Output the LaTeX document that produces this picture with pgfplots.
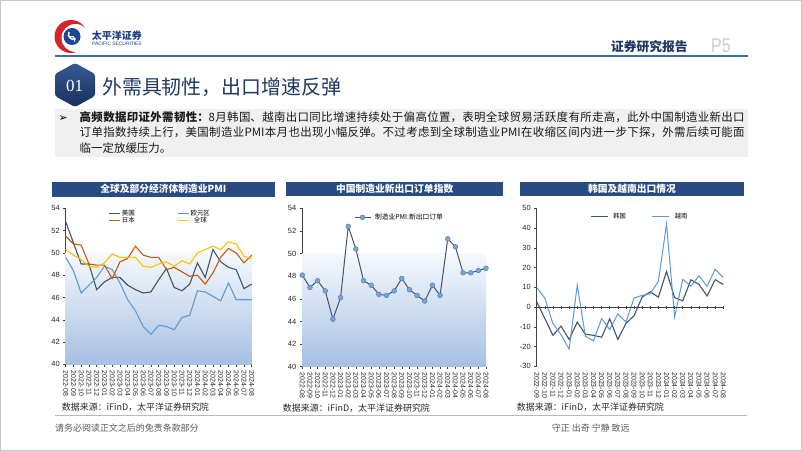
\documentclass[border=0pt]{standalone}
\usepackage{pgfplots}
\pgfplotsset{compat=1.18}
\usepackage{pgfplotstable}
\usepackage{fontspec}
\setmainfont{Liberation Sans}
\newfontfamily\cjk{Noto Sans CJK SC}
\newfontfamily\symf{DejaVu Sans}
\newfontfamily\serf{Liberation Serif}
\XeTeXlinebreaklocale "zh"
\XeTeXlinebreakskip=0pt plus 1pt

\definecolor{navy}{RGB}{31,56,100}
\definecolor{barblue}{RGB}{40,75,130}
\definecolor{hdrline}{RGB}{58,110,175}
\definecolor{usc}{RGB}{68,84,106}
\definecolor{euc}{RGB}{91,155,213}
\definecolor{jpc}{RGB}{197,90,17}
\definecolor{glc}{RGB}{255,192,0}
\definecolor{shadebot}{RGB}{166,192,227}
\definecolor{shadetop}{RGB}{246,249,253}
\definecolor{mkfill}{RGB}{124,164,212}
\definecolor{mkdraw}{RGB}{84,130,190}
\definecolor{axc}{RGB}{64,64,64}
\definecolor{boxgray}{RGB}{240,240,240}
\definecolor{logoblue}{RGB}{30,70,150}
\definecolor{logotext}{RGB}{30,60,130}
\definecolor{logored}{RGB}{215,35,40}
\definecolor{badgetop}{RGB}{55,90,148}
\definecolor{badgebot}{RGB}{24,48,92}

% global & selected economies manufacturing PMI, 2022-08 .. 2024-08
\pgfplotstableread{
i us eu jp gl
0 52.8 49.6 51.5 50.3
1 50.9 48.4 50.8 49.8
2 49.0 46.4 50.7 49.4
3 49.0 47.1 49.0 48.8
4 46.7 47.8 48.9 48.7
5 47.4 48.8 48.9 49.1
6 47.8 48.5 47.7 49.9
7 47.8 47.3 49.2 49.6
8 47.1 45.8 49.5 49.6
9 46.7 44.8 50.6 49.6
10 46.4 43.4 49.8 48.8
11 46.5 42.7 49.6 48.7
12 47.6 43.5 49.6 49.0
13 48.6 43.4 48.5 49.2
14 46.9 43.1 48.7 48.8
15 46.6 44.2 48.3 49.3
16 47.2 44.4 47.9 49.0
17 49.1 46.6 48.0 50.0
18 47.8 46.5 47.2 50.3
19 50.3 46.1 48.2 50.6
20 49.2 45.7 49.6 50.3
21 48.7 47.3 50.4 51.0
22 48.5 45.8 50.0 50.8
23 46.8 45.8 49.1 49.7
24 47.2 45.8 49.8 49.5
}\pmitable

% China new export orders, 2022-08 .. 2024-08
\pgfplotstableread{
i v
0 48.1
1 47.0
2 47.6
3 46.7
4 44.2
5 46.1
6 52.4
7 50.4
8 47.6
9 47.2
10 46.4
11 46.3
12 46.7
13 47.8
14 46.8
15 46.3
16 45.8
17 47.2
18 46.3
19 51.3
20 50.6
21 48.3
22 48.3
23 48.5
24 48.7
}\cntable

% Korea / Vietnam exports yoy, 2022-09 .. 2024-08
\pgfplotstableread{
i kr vn
0 2.7 10.0
1 -5.8 4.5
2 -14.3 -8.4
3 -9.7 -14.0
4 -16.4 -21.3
5 -7.6 11.1
6 -13.8 -14.8
7 -14.3 -17.1
8 -15.3 -5.9
9 -6.0 -11.4
10 -16.4 -3.5
11 -8.3 -7.6
12 -4.4 4.6
13 5.1 5.9
14 7.7 6.7
15 5.0 13.1
16 18.0 42.0
17 4.8 -5.0
18 3.1 14.0
19 13.8 10.6
20 11.5 15.8
21 5.6 10.5
22 13.9 19.1
23 11.4 15.0
}\exptable

\pgfplotsset{
  slide/.style={
    scale only axis, clip=false,
    axis x line*=bottom, axis y line*=left,
    axis line style={axc, line width=0.6bp},
    tick style={axc, line width=0.5bp},
    tick align=outside, major tick length=2.5bp,
    /pgf/number format/assume math mode=true,
    yticklabel style={font=\fontsize{7.5}{8}\selectfont, text=black!85},
    xticklabel style={font=\fontsize{7}{8}\selectfont, rotate=-90, anchor=west, text=black!85},
  }
}

\begin{document}
\begin{tikzpicture}[x=1bp, y=1bp]
\useasboundingbox (0,0) rectangle (802,451);
\fill[white] (0,0) rectangle (802,451);
\draw[gray!45, line width=1bp] (0.5,0.5) rectangle (801.5,450.5);
\coordinate (A1) at (65.7,86.6);
\coordinate (A2) at (302.3,84.3);
\coordinate (A3) at (536.7,84.7);

% logo
\fill[logored] (71,414.5) circle (16.5);
\fill[white] (75.5,413) circle (14);
\fill[logoblue] (72,414.5) circle (8.5);
\draw[white, line width=1.5bp] (69,419) arc (150:300:4.8);
\draw[white, line width=1.1bp] (74.5,409.5) arc (-30:120:3.5);
\node[anchor=west, inner sep=0, text=logotext, font=\fontsize{10}{11}\selectfont\cjk\bfseries] at (91.7,415.5) {太平洋证券};
\node[anchor=west, inner sep=0, text=logotext, font=\fontsize{4.9}{5}\selectfont] at (92,406.8) {PACIFIC SECURITIES};

% header
\node[anchor=west, inner sep=0, text=navy, font=\fontsize{12.8}{13}\selectfont\cjk\bfseries] at (611,404.5) {证券研究报告};
\node[anchor=west, inner sep=0, text=gray!40, font=\fontsize{20}{20}\selectfont, xscale=0.8] at (711,405.5) {P5};
\draw[hdrline, line width=1.3bp] (55,395) -- (748,395);

% section badge and title
\shade[top color=badgetop, bottom color=badgebot, rounded corners=2.5bp]
  (75,388) -- (95,377) -- (95,355) -- (75,344) -- (55,355) -- (55,377) -- cycle;
\node[text=white, font=\fontsize{17}{17}\selectfont\serf] at (74.5,365) {01};
\node[anchor=west, inner sep=0, text=navy, font=\fontsize{20}{21}\selectfont\cjk] at (102,364) {外需具韧性，出口增速反弹};

% text box
\fill[boxgray] (55,294) rectangle (748,342);
\node[anchor=base west, inner sep=0, font=\fontsize{11}{12}\selectfont\symf\bfseries] at (58.5,329.5) {➢};
\node[anchor=base west, inner sep=0, text width=665bp, align=justify, text=black!90,
      font=\fontsize{11.5}{15.5}\selectfont\cjk] at (79.5,329.5)
  {{\bfseries 高频数据印证外需韧性：}8月韩国、越南出口同比增速持续处于偏高位置，表明全球贸易活跃度有所走高，此外中国制造业新出口\linebreak
   订单指数持续上行，美国制造业PMI本月也出现小幅反弹。不过考虑到全球制造业PMI在收缩区间内进一步下探，外需后续可能面\linebreak
   临一定放缓压力。};

% chart title bars
\fill[barblue] (51.7,254.3) rectangle (275,269.3);
\node[text=white, font=\fontsize{9.8}{10}\selectfont\cjk\bfseries] at (163.3,261.8) {全球及部分经济体制造业PMI};
\fill[barblue] (286,255) rectangle (503.3,269.3);
\node[text=white, font=\fontsize{9.8}{10}\selectfont\cjk\bfseries] at (394.7,262.1) {中国制造业新出口订单指数};
\fill[barblue] (520,255) rectangle (744,269.3);
\node[text=white, font=\fontsize{9.8}{10}\selectfont\cjk\bfseries] at (632,262.1) {韩国及越南出口情况};

% chart 1
\begin{axis}[slide, at={(A1)}, anchor=south west, width=186bp, height=156.1bp,
  xmin=0, xmax=24, ymin=40, ymax=54, ytick={40,42,...,54},
  xtick={0,...,24},
  xticklabels={2022-08,2022-09,2022-10,2022-11,2022-12,2023-01,2023-02,2023-03,2023-04,2023-05,2023-06,2023-07,2023-08,2023-09,2023-10,2023-11,2023-12,2024-01,2024-02,2024-03,2024-04,2024-05,2024-06,2024-07,2024-08},
  legend columns=2,
  legend style={at={(0.229,0.99)}, anchor=north west, draw=none, fill=none,
    font=\fontsize{6.5}{7}\selectfont\cjk, inner sep=0pt, row sep=-0.5bp,
    nodes={inner sep=0.3bp},
    /tikz/every odd column/.append style={column sep=1bp},
    /tikz/every even column/.append style={column sep=42bp}},
  legend image code/.code={\draw[#1] (0bp,0bp) -- (11bp,0bp);},
]
\addplot[draw=none, top color=shadetop, bottom color=shadebot, forget plot]
  coordinates {(0,40) (0,50) (24,50) (24,40)} -- cycle;
\addplot[usc, line width=1.1bp] table[x=i, y=us] {\pmitable};
\addlegendentry{美国}
\addplot[euc, line width=1.1bp] table[x=i, y=eu] {\pmitable};
\addlegendentry{欧元区}
\addplot[jpc, line width=1.1bp] table[x=i, y=jp] {\pmitable};
\addlegendentry{日本}
\addplot[glc, line width=1.1bp] table[x=i, y=gl] {\pmitable};
\addlegendentry{全球}
\end{axis}

% chart 2
\begin{axis}[slide, at={(A2)}, anchor=south west, width=183.7bp, height=158.4bp,
  xmin=0, xmax=24, ymin=40, ymax=54, ytick={40,42,...,54},
  xtick={0,...,24},
  xticklabels={2022-08,2022-09,2022-10,2022-11,2022-12,2023-01,2023-02,2023-03,2023-04,2023-05,2023-06,2023-07,2023-08,2023-09,2023-10,2023-11,2023-12,2024-01,2024-02,2024-03,2024-04,2024-05,2024-06,2024-07,2024-08},
  legend style={at={(0.281,0.943)}, anchor=west, draw=none, fill=none,
    font=\fontsize{6.8}{7}\selectfont\cjk, inner sep=0pt,
    /tikz/every odd column/.append style={column sep=2bp}},
  legend image code/.code={\draw[mark repeat=2, mark phase=2, #1] plot coordinates {(0bp,0bp) (8bp,0bp) (16bp,0bp)};},
]
\addplot[draw=none, top color=shadetop, bottom color=shadebot, forget plot]
  coordinates {(0,40) (0,50) (24,50) (24,40)} -- cycle;
\addplot[usc, line width=1bp, mark=*, mark size=2.4bp,
  mark options={fill=mkfill, draw=mkdraw, line width=0.5bp}] table[x=i, y=v] {\cntable};
\addlegendentry{制造业PMI:新出口订单}
\end{axis}

% chart 3
\begin{axis}[slide, at={(A3)}, anchor=south west, width=186.6bp, height=158bp,
  xmin=0, xmax=23, ymin=-30, ymax=50, ytick={-30,-20,...,50},
  x axis line style={draw=none}, major x tick style={draw=none},
  xtick={0,...,23},
  xticklabels={2022-09,2022-10,2022-11,2022-12,2023-01,2023-02,2023-03,2023-04,2023-05,2023-06,2023-07,2023-08,2023-09,2023-10,2023-11,2023-12,2024-01,2024-02,2024-03,2024-04,2024-05,2024-06,2024-07,2024-08},
  legend columns=2,
  legend style={at={(0.286,0.947)}, anchor=west, draw=none, fill=none,
    font=\fontsize{6.3}{7}\selectfont\cjk, inner sep=0pt,
    /tikz/every odd column/.append style={column sep=3bp},
    /tikz/every even column/.append style={column sep=24bp}},
  legend image code/.code={\draw[#1] (0bp,0bp) -- (17bp,0bp);},
]
\addplot[usc, line width=1.1bp] table[x=i, y=kr] {\exptable};
\addlegendentry{韩国}
\addplot[euc, line width=1bp] table[x=i, y=vn] {\exptable};
\addlegendentry{越南}
\end{axis}
\begin{axis}[scale only axis, at={(A3)}, anchor=south west, width=186.6bp, height=158bp,
  xmin=0, xmax=23, ymin=-30, ymax=50,
  axis x line*=middle, axis y line=none,
  xtick={0,...,23}, xticklabels={}, ytick=\empty,
  tick align=center, major tick length=3bp,
  axis line style={axc, line width=0.6bp}, tick style={axc, line width=0.5bp}]
\end{axis}

% sources and footer
\node[anchor=west, inner sep=0, text=black!85, font=\fontsize{9}{10}\selectfont\cjk] at (61.7,43.8) {数据来源：iFinD，太平洋证券研究院};
\node[anchor=west, inner sep=0, text=black!85, font=\fontsize{9}{10}\selectfont\cjk] at (282.7,42.5) {数据来源：iFinD，太平洋证券研究院};
\node[anchor=west, inner sep=0, text=black!85, font=\fontsize{9}{10}\selectfont\cjk] at (516.7,43.8) {数据来源：iFinD，太平洋证券研究院};
\draw[gray!55, line width=1bp] (55,35.3) -- (747,35.3);
\node[anchor=west, inner sep=0, text=black!65, font=\fontsize{9}{10}\selectfont\cjk] at (55,23.3) {请务必阅读正文之后的免责条款部分};
\node[anchor=west, inner sep=0, text=black!65, font=\fontsize{9}{10}\selectfont\cjk] at (551.7,23.3) {守正 出奇 宁静 致远};
\end{tikzpicture}
\end{document}
